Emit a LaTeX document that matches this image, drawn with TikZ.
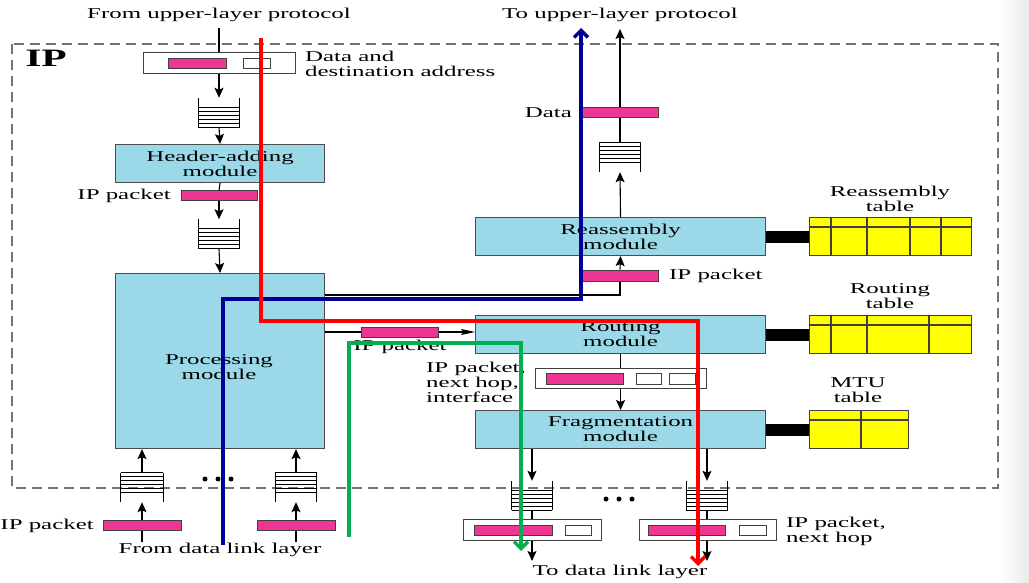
\documentclass[tikz,border=0pt]{standalone}
\usepackage{fontspec}
\setmainfont{Liberation Serif}[FakeStretch=1.66]
\usetikzlibrary{arrows.meta}
\definecolor{modblue}{RGB}{155,216,232}
\definecolor{pinkp}{RGB}{238,55,148}
\definecolor{tyellow}{RGB}{255,255,0}
\definecolor{navyb}{RGB}{0,0,150}
\definecolor{greenl}{RGB}{0,176,80}
\definecolor{redl}{RGB}{255,0,0}
\newcommand\dfont{\fontsize{15pt}{15pt}\selectfont}
\begin{document}
\begin{tikzpicture}[x=1pt,y=-1pt,
  mod/.style={draw=black!70, fill=modblue, line width=1.1pt, inner sep=0pt, align=center, font=\dfont, anchor=north west, minimum width=290pt, minimum height=38pt},
  pkt/.style={draw=black!75, fill=pinkp, line width=1pt, inner sep=0pt, minimum height=10pt},
  wbox/.style={draw=black!75, fill=white, line width=1pt, inner sep=0pt, minimum height=10pt},
  obox/.style={draw=black!75, fill=white, line width=1pt, inner sep=0pt, minimum height=21pt},
  tbl/.style={draw=black!75, fill=tyellow, line width=1.1pt, inner sep=0pt, anchor=north west, minimum height=38pt},
  qnode/.style={inner sep=0pt, minimum width=41pt, minimum height=29pt},
  qline/.style={line width=0.9pt, black},
  lbl/.style={font=\dfont, inner sep=0pt, align=center},
  conn/.style={line width=1.1pt, black},
  arr/.style={conn, -{Stealth[length=10pt,width=9pt,inset=2pt]}},
  slim/.style={conn, -{Stealth[length=14pt,width=6pt,inset=3pt]}},
  anno/.style={line width=3.5pt, line join=miter, -{Straight Barb[length=7pt,width=14pt]}},
  dot/.style={circle, fill=black, inner sep=0pt, minimum size=5pt}
]
% background
\fill[white] (0,0) rectangle (1029,583);
\shade[left color=white, right color=black!8] (1000,0) rectangle (1029,583);
% IP frame
\draw[black!55, line width=1.3pt, dash pattern=on 10pt off 6pt] (12,44) rectangle (998,488);
\node[font=\fontsize{25pt}{25pt}\selectfont\bfseries, inner sep=0pt] (iplbl) at (46,58) {IP};

% ---------- left column ----------
\node[lbl] (fromup) at (219,15) {From upper-layer protocol};
\coordinate (topin) at (219,28);
\node[obox, minimum width=152pt] (dbox) at (219,63.5) {};
\node[pkt, minimum width=58pt] (dpk) at (197,64) {};
\node[wbox, minimum width=27pt] (dad) at (256.5,64) {};
\node[lbl, anchor=west, align=left] (dlbl) at (305,64) {Data and\\destination address};
\node[qnode] (q1) at (219,112.5) {};
\node[mod, minimum width=209pt] (hdr) at (115,144) {Header-adding\\module};
\node[pkt, minimum width=76pt] (ip1) at (219,196) {};
\node[lbl, anchor=east] (ip1l) at (171,196) {IP packet};
\node[qnode] (q2) at (219,234) {};
\node[mod, minimum width=209pt, minimum height=175pt] (proc) at (115,273) {};
\node[lbl] (procl) at (219,367) {Processing\\module};

\draw[conn] (topin) -- (dbox.north);
\draw[arr] (dbox.south) -- (q1.north);
\draw[arr] (q1.south) -- (hdr.north);
\draw[conn] (hdr.south) -- (ip1.north);
\draw[arr] (ip1.south) -- (q2.north);
\draw[arr] (q2.south) -- (proc.north);

% inputs from data link layer
\node[qnode, minimum width=42pt] (qa) at (142,487.5) {};
\node[qnode] (qb) at (296,487.5) {};
\node[pkt, minimum width=78pt] (pa) at (142,525) {};
\node[pkt, minimum width=78pt] (pb) at (296,525) {};
\coordinate (ina) at (142,542);
\coordinate (inb) at (296,542);
\node[lbl, anchor=east] (pal) at (94,526) {IP packet};
\node[lbl] (fromdl) at (220,550) {From data link layer};
\draw[conn] (ina) -- (pa.south);
\draw[conn] (inb) -- (pb.south);
\draw[arr] (pa.north) -- (qa.south);
\draw[arr] (pb.north) -- (qb.south);
\draw[arr] (qa.north) -- (proc.south -| qa.north);
\draw[arr] (qb.north) -- (proc.south -| qb.north);
\node[dot] (d1) at (205,479) {};
\node[dot] (d2) at (218,479) {};
\node[dot] (d3) at (231,479) {};

% ---------- right column ----------
\node[lbl] (toup) at (620,15) {To upper-layer protocol};
\coordinate (topout) at (620,29);
\node[pkt, minimum width=76pt] (dat) at (620,113) {};
\node[lbl, anchor=east] (datl) at (572,113) {Data};
\node[qnode] (qr) at (620,157.5) {};
\node[mod] (reas) at (475,217) {Reassembly\\module};
\node[pkt, minimum width=76pt, minimum height=11pt] (ip2) at (620,275.5) {};
\node[lbl, anchor=west] (ip2l) at (669,276) {IP packet};
\coordinate (c1) at (620,295);
\node[mod] (rout) at (475,315) {Routing\\module};
\node[pkt, minimum width=77pt] (ip3) at (399.5,332) {};
\node[lbl] (ip3l) at (400,347) {IP packet};
\node[obox, minimum width=171pt, minimum height=20pt] (rbox) at (620.5,378) {};
\node[pkt, minimum width=77pt, minimum height=11pt] (rpk) at (584.5,378.5) {};
\node[wbox, minimum width=25pt, minimum height=11pt] (rw1) at (648.5,378.5) {};
\node[wbox, minimum width=26pt, minimum height=11pt] (rw2) at (682,378.5) {};
\node[lbl, anchor=west, align=left] (rboxl) at (426,382) {IP packet,\\next hop,\\interface};
\node[mod] (frag) at (475,410) {Fragmentation\\module};

\draw[arr] (dat.north) -- (topout);
\draw[conn] (qr.north) -- (dat.south);
\draw[arr] (reas.north) -- (qr.south);
\draw[arr] (ip2.north) -- (reas.south);
\draw[conn] (proc.east |- c1) -- (c1) -- (ip2.south);
\draw[conn] (proc.east |- ip3.west) -- (ip3.west);
\draw[slim] (ip3.east) -- (rout.west |- ip3.east);
\draw[conn] (rout.south) -- (rbox.north -| rout.south);
\draw[arr] (rbox.south -| frag.north) -- (frag.north);

% tables
\node[lbl] (rtl) at (890,198.5) {Reassembly\\table};
\node[tbl, minimum width=162pt] (rtab) at (809,217) {};
\foreach \x in {831,867,910,941} \draw[black!75, line width=1.1pt] (\x,217) -- (\x,255);
\draw[black!75, line width=1.1pt] (809,227) -- (971,227);
\node[lbl] (otl) at (890,296.5) {Routing\\table};
\node[tbl, minimum width=162pt] (otab) at (809,315) {};
\foreach \x in {831,867,929} \draw[black!75, line width=1.1pt] (\x,315) -- (\x,353);
\draw[black!75, line width=1.1pt] (809,325) -- (971,325);
\node[lbl] (mtl) at (858,390) {MTU\\table};
\node[tbl, minimum width=99pt] (mtab) at (809,410) {};
\draw[black!75, line width=1.1pt] (861,410) -- (861,448);
\draw[black!75, line width=1.1pt] (809,420) -- (908,420);
\draw[line width=12pt] (reas.east) -- (rtab.west);
\draw[line width=12pt] (rout.east) -- (otab.west);
\draw[line width=12pt] (frag.east) -- (mtab.west);

% outputs to data link layer
\node[qnode, minimum width=40pt] (qc) at (532,495.5) {};
\node[qnode] (qd) at (707,495.5) {};
\node[obox, minimum width=138pt] (ob1) at (532,529.5) {};
\node[pkt, minimum width=78pt] (op1) at (513,530) {};
\node[wbox, minimum width=26pt] (ow1) at (578,530) {};
\node[obox, minimum width=137pt] (ob2) at (707.5,529.5) {};
\node[pkt, minimum width=77pt] (op2) at (686.5,530) {};
\node[wbox, minimum width=27pt] (ow2) at (752.5,530) {};
\node[lbl, anchor=west, align=left] (obl) at (786,531) {IP packet,\\next hop};
\coordinate (outc) at (532,561);
\coordinate (outd) at (707,561);
\node[lbl] (todl) at (620,572) {To data link layer};
\draw[arr] (frag.south -| qc.north) -- (qc.north);
\draw[arr] (frag.south -| qd.north) -- (qd.north);
\draw[conn] (qc.south) -- (ob1.north -| qc.south);
\draw[conn] (qd.south) -- (ob2.north -| qd.south);
\draw[arr] (ob1.south -| qc.south) -- (outc);
\draw[arr] (ob2.south -| qd.south) -- (outd);
\node[dot] (d4) at (606,499) {};
\node[dot] (d5) at (619,499) {};
\node[dot] (d6) at (632,499) {};

% queue drawings
\foreach \q in {q1,q2,qc,qd} {
  \draw[qline] (\q.north west) -- (\q.south west) (\q.north east) -- (\q.south east);
  \foreach \k in {0,4,...,20} \draw[qline] ([yshift=\k pt]\q.south west) -- ([yshift=\k pt]\q.south east);
}
\foreach \q in {qa,qb,qr} {
  \draw[qline] (\q.north west) -- (\q.south west) (\q.north east) -- (\q.south east);
  \foreach \k in {0,4,...,20} \draw[qline] ([yshift=-\k pt]\q.north west) -- ([yshift=-\k pt]\q.north east);
}

% coloured annotation paths
\coordinate (bs) at (223,545); \coordinate (b1) at (223,299); \coordinate (b2) at (581,299); \coordinate (be) at (581,28);
\coordinate (rs) at (261,38); \coordinate (r1) at (261,321); \coordinate (r2) at (698,321); \coordinate (re) at (698,566);
\coordinate (gs) at (349,537); \coordinate (g1) at (349,343); \coordinate (g2) at (521,343); \coordinate (ge) at (521,551);
\draw[anno, navyb] (bs) -- (b1) -- (b2) -- (be);
\draw[anno, redl] (rs) -- (r1) -- (r2) -- (re);
\draw[anno, greenl] (gs) -- (g1) -- (g2) -- (ge);
\end{tikzpicture}
\end{document}
